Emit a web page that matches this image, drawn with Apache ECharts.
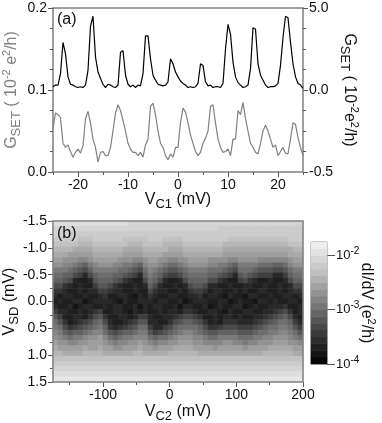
<!DOCTYPE html>
<html><head><meta charset="utf-8">
<style>html,body{margin:0;padding:0;background:#fff}#c{width:382px;height:423px}</style>
<script src="https://cdn.jsdelivr.net/npm/echarts@6/dist/echarts.min.js"></script>
</head><body><div id="c"></div>
<script>
// Panel (a)
const vc1 = [-25,-24.5,-24,-23.5,-23,-22.5,-22,-21.5,-21,-20.5,-20,-19.5,-19,-18.5,-18,-17.5,-17,-16.5,-16,-15.5,-15,-14.5,-14,-13.5,-13,-12.5,-12,-11.5,-11,-10.5,-10,-9.5,-9,-8.5,-8,-7.5,-7,-6.5,-6,-5.5,-5,-4.5,-4,-3.5,-3,-2.5,-2,-1.5,-1,-0.5,0,0.5,1,1.5,2,2.5,3,3.5,4,4.5,5,5.5,6,6.5,7,7.5,8,8.5,9,9.5,10,10.5,11,11.5,12,12.5,13,13.5,14,14.5,15,15.5,16,16.5,17,17.5,18,18.5,19,19.5,20,20.5,21,21.5,22,22.5,23,23.5,24,24.5,25];
const gsetBlack = [.2,.3,.3,1.0,2.9,2.2,.8,.35,.3,.2,.15,.2,.15,.3,1.2,3.9,4.5,2.0,1.1,.7,.35,.15,.35,.3,.2,.15,.3,2.3,2.4,.9,.35,.2,.3,.15,.3,.25,1.0,3.3,3.3,1.9,.9,.6,.35,.3,.25,.3,.5,1.9,1.6,1.1,.8,.55,.4,.3,.15,.2,.15,.2,.4,1.6,1.5,.5,.25,.3,.15,.2,.2,.15,.4,2.5,4.0,3.4,1.7,.8,.45,.3,.15,.2,.3,1.3,3.8,3.7,1.6,.9,.6,.3,.15,.2,.2,.25,.4,1.5,3.2,4.5,4.4,2.9,1.6,.8,.4,.3,.1];
const gsetGray = [.053,.072,.07,.066,.035,.03,.033,.025,.018,.024,.028,.023,.032,.065,.074,.06,.04,.03,.012,.024,.025,.02,.02,.03,.05,.072,.082,.075,.063,.05,.035,.028,.024,.024,.02,.024,.018,.033,.04,.08,.084,.07,.05,.035,.03,.02,.015,.022,.018,.03,.03,.06,.078,.073,.06,.045,.035,.025,.02,.024,.035,.041,.05,.08,.082,.06,.04,.03,.024,.025,.028,.02,.04,.04,.075,.07,.085,.065,.05,.035,.03,.024,.022,.035,.05,.057,.05,.04,.03,.033,.02,.025,.03,.023,.022,.04,.06,.058,.042,.03,.02];
const aBottomMajor = [-20,-10,0,10,20];
const aBottomMinor = [-25,-15,-5,5,15,25];
const aLeftMajor = [0,0.1,0.2];
const aLeftMinor = [0.025,0.05,0.075,0.125,0.15,0.175];
const aRightMajor = [-5,0,5];
const aRightMinor = [-3.75,-2.5,-1.25,1.25,2.5,3.75];
const aRightLabels = {'-5':'-0.5','0':'0.0','5':'5.0'};

// Panel (b): rows run from VSD = -1.5 to 1.5, columns from VC2 = -171 to 196.
// Each cell is dI/dV as tenths of a decade above 1e-4 e^2/h.
const vc2Cols = [-171,-164,-156,-149,-141,-134,-126,-119,-111,-104,-96,-89,-81,-74,-66,-59,-51,-44,-36,-29,-21,-14,-6,1,9,16,24,31,39,46,54,61,69,76,84,91,99,106,114,121,129,136,144,151,159,166,174,181,189,196];
const vsdRows = [-1.5,-1.4,-1.3,-1.2,-1.1,-1.0,-0.9,-0.8,-0.7,-0.6,-0.5,-0.4,-0.3,-0.2,-0.1,0,0.1,0.2,0.3,0.4,0.5,0.6,0.7,0.8,0.9,1.0,1.1,1.2,1.3,1.4,1.5];
const conductanceTenths = [
[20,20,20,20,20,20,20,20,20,20,20,20,20,20,20,19,19,19,19,19,19,19,19,19,19,19,19,19,19,19,19,19,19,19,19,19,19,19,19,19,19,19,19,19,19,19,19,19,19,19],
[19,19,19,19,19,19,19,19,19,19,19,19,19,19,19,19,19,19,19,19,19,19,19,19,19,19,19,19,19,19,19,19,19,18,18,18,18,18,18,18,18,18,18,18,18,18,18,18,18,18],
[19,19,19,18,18,18,18,18,18,18,18,18,18,18,18,18,18,18,18,18,18,18,18,18,18,18,18,18,18,18,18,18,18,18,18,18,18,18,18,18,18,18,18,18,18,18,18,18,18,18],
[18,18,18,18,18,17,17,17,18,18,18,18,18,18,17,17,17,17,17,18,18,18,17,17,17,17,18,18,18,18,18,18,18,18,18,17,17,17,17,17,17,17,17,17,17,17,17,18,18,18],
[17,17,17,17,17,16,16,16,17,17,17,17,17,17,17,16,16,16,17,17,17,17,16,16,16,16,17,17,17,17,17,17,17,17,16,16,16,16,16,16,16,16,16,16,16,16,16,17,17,17],
[16,16,16,16,15,15,15,15,16,16,16,16,16,16,15,15,15,15,16,16,16,16,16,15,15,15,16,16,16,16,16,16,16,16,15,15,15,15,15,15,15,15,15,15,15,15,15,15,16,16],
[15,15,15,14,14,14,14,14,15,15,15,15,15,15,14,14,14,14,15,15,15,15,14,14,14,14,15,15,15,15,15,15,15,15,14,14,14,14,14,14,14,14,14,14,14,14,14,15,15,15],
[14,14,13,13,13,12,12,13,14,14,14,14,14,13,13,13,12,12,13,14,14,13,13,12,12,13,13,14,14,14,14,13,13,13,13,12,12,13,13,13,13,12,12,12,12,12,12,13,14,14],
[13,13,12,12,11,10,9,11,12,13,13,13,12,12,11,11,10,9,12,13,13,12,11,10,10,11,12,13,13,13,13,12,12,11,11,10,9,11,11,11,11,10,10,10,9,9,10,12,13,13],
[11,11,11,10,9,8,7,9,11,11,11,11,11,10,10,9,8,7,10,12,11,10,9,8,8,9,10,11,11,11,11,10,10,10,9,8,7,10,10,10,9,8,8,8,7,7,8,10,11,11],
[10,10,9,9,7,6,4,7,9,10,10,10,9,9,8,7,6,4,9,11,10,9,7,6,6,7,9,10,10,10,10,9,9,8,7,6,4,8,9,8,7,6,6,6,4,4,6,9,10,10],
[9,9,8,7,4,3,3,4,8,9,9,9,8,7,5,4,3,3,7,10,9,7,4,3,3,4,7,9,9,9,9,7,7,5,4,3,3,6,7,5,4,3,3,4,3,3,4,7,9,9],
[7,7,5,4,3,4,3,3,6,8,8,7,5,4,3,3,4,3,4,9,7,4,3,3,4,3,4,7,8,8,7,4,4,3,3,4,3,3,4,4,3,3,4,3,3,4,3,4,7,7],
[5,5,4,3,3,4,3,4,4,6,6,5,4,4,3,3,4,3,3,7,5,4,4,3,3,4,3,5,6,6,5,3,4,4,3,3,4,3,4,3,3,4,4,3,3,4,3,4,5,5],
[4,3,4,4,3,3,4,3,3,4,5,3,3,4,4,3,2,4,3,5,4,3,3,4,4,3,3,4,4,5,3,4,4,3,2,4,3,3,2,4,4,3,3,4,3,3,4,4,3,4],
[3,4,3,3,4,4,2,3,4,4,4,4,3,2,4,3,3,4,4,4,3,4,4,3,3,4,2,3,4,4,4,3,3,4,4,2,3,4,3,3,2,4,4,3,4,3,3,4,4,3],
[4,3,3,4,2,3,4,4,3,3,4,3,4,4,3,3,4,2,4,3,4,4,3,3,4,2,4,4,3,3,4,2,3,4,3,3,4,4,2,3,4,3,3,4,4,4,5,3,3,4],
[6,4,4,3,3,4,3,4,5,6,3,3,4,4,3,2,4,3,4,3,3,4,3,4,4,3,5,5,4,3,3,4,4,3,2,4,3,3,4,4,3,3,4,4,5,6,7,5,3,4],
[8,6,3,3,4,4,3,5,7,8,5,3,3,4,4,3,4,6,6,4,3,3,4,4,5,6,7,7,6,5,3,3,4,3,4,4,3,4,3,3,4,4,5,6,7,8,9,7,4,3],
[10,8,5,3,4,5,6,7,9,10,7,4,3,3,4,5,6,8,8,4,4,3,3,5,7,8,9,9,8,7,5,3,4,3,5,5,5,4,4,4,5,6,7,8,9,10,10,9,6,4],
[11,10,7,5,6,7,8,9,10,11,9,5,4,5,6,7,8,10,10,6,4,4,6,7,9,10,10,10,10,9,7,5,5,6,7,7,7,6,6,6,7,8,9,10,10,11,11,10,8,6],
[12,11,9,8,9,9,10,11,12,12,10,8,7,8,9,9,10,11,11,8,6,7,8,9,10,11,12,12,11,10,9,8,8,9,9,9,9,8,8,8,9,10,10,11,11,12,12,11,10,8],
[13,12,11,10,11,11,12,13,13,14,12,10,9,10,11,11,12,12,12,10,9,10,10,11,12,13,13,13,12,12,11,10,10,11,11,11,11,10,10,10,11,11,12,12,13,13,13,12,11,10],
[14,13,13,12,12,13,13,14,14,14,13,12,11,12,12,13,13,14,13,12,11,12,12,13,13,14,14,14,13,13,12,12,12,12,13,13,12,12,11,12,12,13,13,13,14,14,14,13,13,12],
[15,14,14,14,14,14,15,14,14,15,14,14,13,13,14,14,14,15,14,14,13,14,14,14,15,15,15,15,14,14,14,14,13,14,14,14,14,14,13,14,14,14,14,15,15,15,15,15,14,14],
[16,16,15,15,15,15,16,16,16,16,15,15,15,15,15,15,16,16,15,15,15,15,15,16,16,16,16,16,16,15,15,15,15,15,15,15,15,15,15,15,15,15,16,16,16,16,16,16,15,15],
[17,17,17,17,17,17,17,17,17,17,17,17,17,17,17,17,17,17,17,17,17,17,17,17,17,17,17,17,17,17,17,17,17,17,17,17,17,17,17,17,17,17,17,17,17,17,17,17,17,17],
[18,18,18,18,18,18,18,18,18,18,18,18,18,18,18,18,18,18,18,18,18,18,18,18,18,18,18,18,18,18,18,18,18,18,18,18,18,18,18,18,18,18,18,18,18,18,18,18,18,18],
[19,19,19,19,19,19,19,19,19,19,19,19,19,19,19,19,19,19,19,19,19,19,19,19,19,19,19,19,19,19,19,19,19,19,19,19,19,19,19,19,19,19,19,19,19,19,19,19,19,19],
[20,20,20,20,20,20,20,20,20,20,20,20,20,20,20,20,20,20,20,20,20,20,20,20,20,20,20,20,20,20,20,20,20,20,20,20,20,20,20,20,20,20,20,20,20,20,20,20,20,20],
[21,21,21,21,21,21,21,21,21,21,21,21,21,21,21,21,21,21,21,21,21,21,21,21,21,21,21,21,21,21,21,21,21,21,21,21,21,21,21,21,21,21,21,21,21,21,21,21,21,21]
];
const bBottomMajor = [-100,0,100,200];
const bBottomMinor = [-150,-50,50,150];
const bLeftMajor = [-1.5,-1,-0.5,0,0.5,1,1.5];
const bLeftMinor = [-1.25,-0.75,-0.25,0.25,0.75,1.25];

// Colour bar
const barLevels = [-3.94,-3.81,-3.69,-3.56,-3.44,-3.32,-3.19,-3.07,-2.94,-2.82,-2.69,-2.57,-2.44,-2.32,-2.2,-2.07,-1.95,-1.82];
const barTicks = [-4,-3,-2];

const frame = '#808080', tickC = '#555';
const font = 'Liberation Sans, Arial, sans-serif';
const nameRich = (c) => ({
  b:{fontSize:16,color:c,fontFamily:font,lineHeight:22},
  s:{fontSize:13,color:c,fontFamily:font,lineHeight:22,verticalAlign:'bottom'},
  u:{fontSize:11,color:c,fontFamily:font,lineHeight:22,verticalAlign:'top'}
});
function tickAxis(gridIndex, position, min, max, ticks, len, extra){
  return Object.assign({
    type:'value', gridIndex, position, min, max, scale:true, nameMoveOverlap:false,
    splitLine:{show:false}, axisLine:{show:false,onZero:false},
    axisTick:{show:true,length:len,customValues:ticks,lineStyle:{color:tickC,width:1}},
    axisLabel:{show:false}
  }, extra||{});
}
function labelled(ticks, fmt){
  return {show:true,customValues:ticks,color:'#111',fontSize:14,fontFamily:font,margin:6,formatter:fmt,hideOverlap:false,showMinLabel:true,showMaxLabel:true};
}
const one = v => v.toFixed(1);

const option = {
  animation:false, backgroundColor:'#fff',
  grid:[
    {left:53,top:8,width:250,height:164,outerBoundsMode:'none',show:true,borderColor:frame,borderWidth:1.5,backgroundColor:'transparent'},
    {left:53,top:221,width:250,height:161,outerBoundsMode:'none',show:true,borderColor:frame,borderWidth:1.5,backgroundColor:'transparent',z:5},
    {left:311,top:242,width:16,height:122,outerBoundsMode:'none',show:true,borderColor:frame,borderWidth:1,backgroundColor:'transparent'}
  ],
  xAxis:[
    tickAxis(0,'bottom',-25,25,aBottomMajor,5,{
      axisLabel:labelled(aBottomMajor,v=>String(v)),
      name:'{b|V}{s|C1}{b| (mV)}',nameLocation:'middle',nameGap:17,nameTextStyle:{rich:nameRich('#111')}}),
    tickAxis(0,'bottom',-25,25,aBottomMinor,3),
    {type:'category',gridIndex:1,data:vc2Cols,show:false},
    tickAxis(1,'bottom',-175,200,bBottomMajor,5,{
      axisLabel:labelled(bBottomMajor,v=>String(v)),
      name:'{b|V}{s|C2}{b| (mV)}',nameLocation:'middle',nameGap:19,nameTextStyle:{rich:nameRich('#111')}}),
    tickAxis(1,'bottom',-175,200,bBottomMinor,3),
    {type:'category',gridIndex:2,data:['bar'],show:false}
  ],
  yAxis:[
    tickAxis(0,'left',0,0.2,aLeftMajor,5,{
      axisLabel:labelled(aLeftMajor,one),
      name:'{b|G}{s|SET}{b| ( 10}{u|-2}{b| e}{u|2}{b|/h)}',nameLocation:'middle',nameGap:30,nameRotate:90,
      nameTextStyle:{rich:nameRich(frame)}}),
    tickAxis(0,'left',0,0.2,aLeftMinor,3),
    tickAxis(0,'right',-5,5,aRightMajor,5,{
      axisLabel:labelled(aRightMajor,v=>aRightLabels[String(v)]),
      name:'{b|G}{s|SET}{b| ( 10}{u|-2}{b|e}{u|2}{b|/h)}',nameLocation:'middle',nameGap:35,nameRotate:-90,
      nameTextStyle:{rich:nameRich('#111')}}),
    tickAxis(0,'right',-5,5,aRightMinor,3),
    {type:'category',gridIndex:1,data:vsdRows,inverse:true,show:false},
    tickAxis(1,'left',-1.5,1.5,bLeftMajor,5,{
      inverse:true,
      axisLabel:labelled(bLeftMajor,one),
      name:'{b|V}{s|SD}{b| (mV)}',nameLocation:'middle',nameGap:32,nameRotate:90,
      nameTextStyle:{rich:nameRich('#111')}}),
    tickAxis(1,'left',-1.5,1.5,bLeftMinor,3,{inverse:true}),
    {type:'category',gridIndex:2,data:barLevels,show:false},
    tickAxis(2,'right',-4,-1.76,barTicks,8,{
      axisLabel:{show:true,customValues:barTicks,margin:9,fontFamily:font,color:'#111',
        formatter:v=>'{t|10}{e|'+v+'}',
        rich:{t:{fontSize:13,fontFamily:font,color:'#111',lineHeight:18},e:{fontSize:10,fontFamily:font,color:'#111',lineHeight:18,verticalAlign:'top'}}},
      name:'{b|dI/dV (e}{u|2}{b|/h)}',nameLocation:'middle',nameGap:28,nameRotate:-90,
      nameTextStyle:{rich:nameRich('#111')}})
  ],
  visualMap:{show:false,type:'continuous',seriesIndex:[2,3],min:-4,max:-1.76,dimension:2,
    inRange:{color:['#000000','#3a3a3a','#7c7c7c','#c0c0c0','#f4f4f4']}},
  series:[
    {type:'line',name:'GSET black',xAxisIndex:0,yAxisIndex:2,showSymbol:false,smooth:false,
      data:vc1.map((x,i)=>[x,gsetBlack[i]]),lineStyle:{color:'#000',width:1.2},z:3},
    {type:'line',name:'GSET gray',xAxisIndex:0,yAxisIndex:0,showSymbol:false,smooth:false,
      data:vc1.map((x,i)=>[x,gsetGray[i]]),lineStyle:{color:'#808080',width:1.2},z:3},
    {type:'heatmap',name:'dI/dV',xAxisIndex:2,yAxisIndex:4,progressive:0,
      data:conductanceTenths.flatMap((row,r)=>row.map((n,c)=>[c,r,-4+n/10]))},
    {type:'heatmap',name:'scale',xAxisIndex:5,yAxisIndex:7,progressive:0,
      data:barLevels.map((v,i)=>[0,i,v])}
  ],
  graphic:[
    {type:'text',left:57,top:12,z:20,style:{text:'(a)',font:'16px '+font,fill:'#111'}},
    {type:'text',left:57,top:226,z:20,style:{text:'(b)',font:'16px '+font,fill:'#111'}}
  ]
};
const chart = echarts.init(document.getElementById('c'),null,{renderer:'canvas'});
chart.setOption(option);
</script></body></html>
